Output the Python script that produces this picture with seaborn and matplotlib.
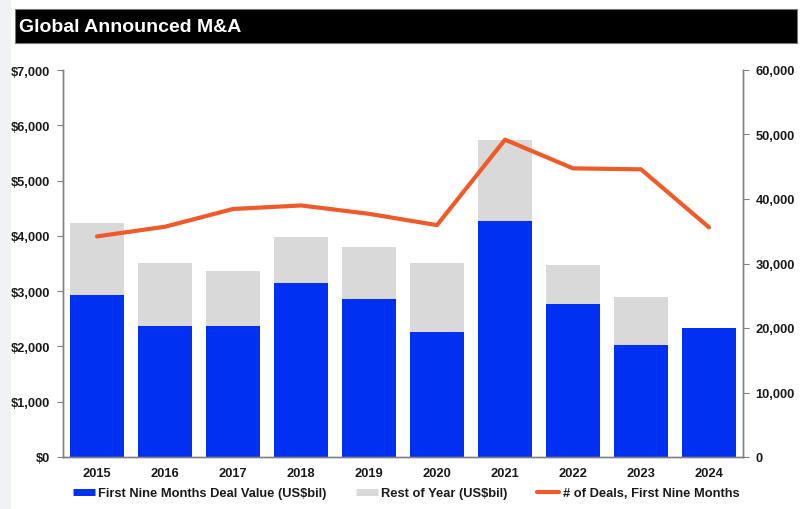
import matplotlib
matplotlib.use("Agg")
import matplotlib.pyplot as plt
from matplotlib.lines import Line2D
from matplotlib.patches import Rectangle
from matplotlib.ticker import FuncFormatter, MultipleLocator
import seaborn as sns
import numpy as np
import pandas as pd

# Datos
anios = ["2015", "2016", "2017", "2018", "2019", "2020", "2021", "2022", "2023", "2024"]
primeros_nueve_meses = [2935, 2363, 2375, 3141, 2852, 2266, 4262, 2761, 2020, 2333]
resto_del_anio = [1290, 1151, 983, 837, 951, 1248, 1476, 717, 879, 0]
numero_operaciones = [34200, 35700, 38450, 39000, 37700, 35950, 49200, 44750, 44600, 35600]

AZUL = "#0030F2"
GRIS = "#D9D9D9"
NARANJA = "#F05A28"
EJE = "#808080"
TEXTO = "#1a1a1a"

sns.set_style("white")
plt.rcParams["font.family"] = ["Liberation Sans", "DejaVu Sans"]

df = pd.DataFrame({
    "anio": anios,
    "primeros": primeros_nueve_meses,
    "total": np.array(primeros_nueve_meses) + np.array(resto_del_anio),
    "deals": numero_operaciones,
    "pos": np.arange(len(anios)),
})

fig = plt.figure(figsize=(8.1, 5.1), dpi=100)
fig.patches.append(Rectangle((0, 0), 10 / 810, 1, transform=fig.transFigure,
                             color="#f1f2f5", zorder=0))
# Barra negra del titulo
fig.patches.append(Rectangle((15 / 810, 1 - 44 / 510), 782 / 810, 34 / 510,
                             transform=fig.transFigure, facecolor="black",
                             edgecolor="#777777", linewidth=0.8, zorder=1))
fig.text(19 / 810, 1 - 27 / 510, "Global Announced M&A", color="white",
         fontsize=14, fontweight="bold", va="center", ha="left")

ax = fig.add_axes([63 / 810, 1 - 458 / 510, 680 / 810, 387 / 510])

sns.barplot(data=df, x="anio", y="total", color=GRIS, saturation=1,
            width=0.78, ax=ax, edgecolor="none")
sns.barplot(data=df, x="anio", y="primeros", color=AZUL, saturation=1,
            width=0.78, ax=ax, edgecolor="none")

ax.set_xlim(-0.5, len(anios) - 0.5)
ax.set_ylim(0, 7000)
ax.yaxis.set_major_locator(MultipleLocator(1000))
ax.yaxis.set_major_formatter(FuncFormatter(lambda v, p: f"${v:,.0f}"))
ax.set_xlabel("")
ax.set_ylabel("")
ax.set_xticks(np.arange(-0.5, len(anios), 1.0), minor=True)
ax.tick_params(axis="x", which="major", length=0, pad=7)
ax.tick_params(axis="x", which="minor", length=4, color=EJE, direction="out")
ax.tick_params(axis="y", length=4, color=EJE, direction="out", left=True, pad=5)

ax2 = ax.twinx()
sns.lineplot(data=df, x="pos", y="deals", color=NARANJA, linewidth=3,
             ax=ax2, solid_capstyle="round")
ax2.set_ylim(0, 60000)
ax2.yaxis.set_major_locator(MultipleLocator(10000))
ax2.yaxis.set_major_formatter(FuncFormatter(lambda v, p: f"{v:,.0f}"))
ax2.set_ylabel("")
ax2.set_xlabel("")
ax2.tick_params(axis="y", length=4, color=EJE, direction="out", right=True, pad=5)

for eje in (ax, ax2):
    eje.spines["top"].set_visible(False)
    for s in ("left", "right", "bottom"):
        eje.spines[s].set_color(EJE)
        eje.spines[s].set_linewidth(1)
    for lbl in eje.get_xticklabels() + eje.get_yticklabels():
        lbl.set_fontweight("bold")
        lbl.set_fontsize(9.3)
        lbl.set_color(TEXTO)

manejadores = [
    Line2D([], [], color=AZUL, linewidth=5, solid_capstyle="butt"),
    Line2D([], [], color=GRIS, linewidth=5, solid_capstyle="butt"),
    Line2D([], [], color=NARANJA, linewidth=3, solid_capstyle="round"),
]
etiquetas = ["First Nine Months Deal Value (US$bil)", "Rest of Year (US$bil)",
             "# of Deals, First Nine Months"]
leyenda = fig.legend(manejadores, etiquetas, loc="center", ncol=3,
                     bbox_to_anchor=(406 / 810, 1 - 494 / 510), frameon=False,
                     handlelength=1.7, handletextpad=0.25, columnspacing=2.3,
                     prop={"weight": "bold", "size": 9.3})
for t in leyenda.get_texts():
    t.set_color(TEXTO)

fig.savefig("out.png", dpi=100)
